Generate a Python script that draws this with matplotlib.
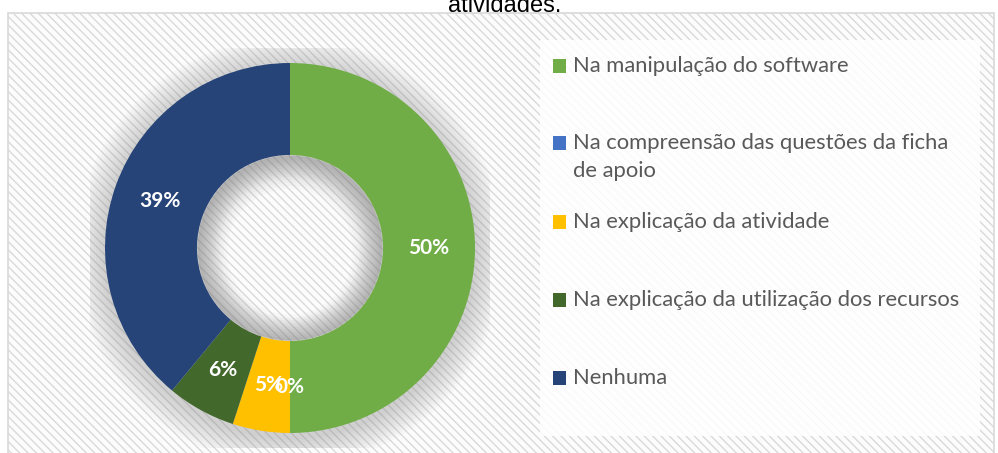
import matplotlib.pyplot as plt
from matplotlib.patches import Rectangle, Wedge

# chart data
labels = [
    "Na manipulação do software",
    "Na compreensão das questões da ficha\nde apoio",
    "Na explicação da atividade",
    "Na explicação da utilização dos recursos",
    "Nenhuma",
]
percentages = [50, 0, 5, 6, 39]
colors = ["#70AD47", "#4472C4", "#FFC000", "#43682B", "#264478"]
title = "atividades."

W, H = 998, 453
plt.rcParams['hatch.linewidth'] = 1.0
plt.rcParams['hatch.color'] = '#f2f2f2'

fig = plt.figure(figsize=(W / 100, H / 100), dpi=100)
fig.patch.set_facecolor('white')

def px(x, y):
    # pixel (from top-left) -> figure fraction
    return x / W, 1 - y / H

# chart area with faint diagonal texture
x0, y0 = px(8, 460)
x1, y1 = px(994, 13)
fig.patches.append(Rectangle((x0, y0), x1 - x0, y1 - y0, transform=fig.transFigure,
                             facecolor='#fcfcfc', edgecolor='#d9d9d9', lw=1.2,
                             hatch='\\\\\\\\', zorder=-3))
# white legend panel
lx0, ly0 = px(540, 436)
lx1, ly1 = px(980, 40)
fig.patches.append(Rectangle((lx0, ly0), lx1 - lx0, ly1 - ly0, transform=fig.transFigure,
                             facecolor='white', edgecolor='none', alpha=0.85, zorder=-2))

fig.text(0.506, 1 - 12 / H, title, ha='center', va='baseline', fontsize=17,
         family='Liberation Sans', color='black')

# donut
cx, cy, r = 290, 248, 185
half = 200
ax = fig.add_axes([(cx - half) / W, (H - cy - half) / H, 2 * half / W, 2 * half / H])
ax.set_zorder(1)
ax.patch.set_visible(False)
ax.axis('off')

# soft shadow
for k in range(10):
    ax.add_patch(Wedge((0, -0.02), 1.0 + 0.016 * (k + 1), 0, 360, width=0.5 + 0.032 * (k + 1),
                       facecolor='#7a7a7a', alpha=0.035, edgecolor='none', zorder=0))
    ax.add_patch(Wedge((0, 0), 0.50, 0, 360, width=0.012 * (k + 1),
                       facecolor='#7a7a7a', alpha=0.035, edgecolor='none', zorder=0))

wedges, texts, autotexts = ax.pie(
    percentages, colors=colors, startangle=90, counterclock=False, radius=1,
    wedgeprops=dict(width=0.497, edgecolor='none'),
    autopct='%1.0f%%', pctdistance=0.75,
    textprops=dict(color='white', fontsize=15, fontweight='bold', family='Lato'))
ax.set_xlim(-half / r, half / r)
ax.set_ylim(-half / r, half / r)
ax.set_aspect('equal')

# legend (laid out like the original)
legend_y = [66, 143, 222, 300, 378]
for lab, col, yy in zip(labels, colors, legend_y):
    sx, sy = px(553, yy + 7)
    fig.patches.append(Rectangle((sx, sy), 13 / W, 14 / H, transform=fig.transFigure,
                                 facecolor=col, edgecolor='none', zorder=2))
    tx, ty = px(573, yy - 10)
    fig.text(tx, ty, lab, ha='left', va='top', fontsize=15.8, family='Lato',
             color='#595959', linespacing=1.5)

fig.savefig('out.png', dpi=100)
